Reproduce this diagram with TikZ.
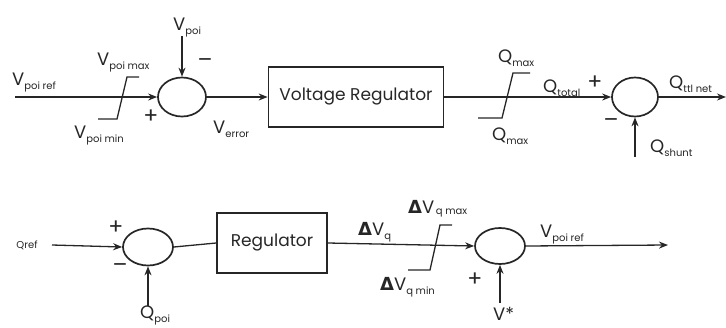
\documentclass[tikz,border=0pt]{standalone}
\usepackage{fontspec}
\setmainfont{Poppins}
\newfontfamily\deltafont{DejaVu Sans}
\usepackage{tikz}
\usetikzlibrary{shapes.geometric,arrows.meta,positioning}

\newcommand{\sig}[2]{#1\raisebox{-4pt}{\fontsize{10}{10}\selectfont #2}}
\newcommand{\dlt}{{\deltafont\bfseries Δ}}

\begin{document}
\begin{tikzpicture}[
    x=1pt, y=-1pt,
    color=black!85,
    font=\fontsize{18}{18}\selectfont,
    sumnode/.style={draw, ellipse, line width=1.7pt, minimum width=48pt, minimum height=39pt, inner sep=0pt},
    block/.style={draw, line width=1.7pt, minimum height=60pt, inner sep=0pt, font=\fontsize{17}{17}\selectfont},
    lbl/.style={anchor=base west, inner sep=0pt},
    sgn/.style={inner sep=0pt, font=\fontsize{22}{22}\selectfont},
    wire/.style={-{Stealth[length=9pt, width=7pt]}, line width=1.3pt},
    limit/.style={line width=1.3pt}
]
\useasboundingbox (0,0) rectangle (726,327);

% voltage loop
\coordinate (vin) at (15,97);
\coordinate (vtop) at (182,36);
\node[sumnode] (sum1) at (182,97) {};
\node[block, minimum width=175pt] (vreg) at (356,97) {Voltage Regulator};
\node[sumnode, minimum width=46pt] (sum2) at (635,97) {};
\coordinate (qout) at (726,97);
\coordinate (qsh) at (635,157);

\draw[limit] (98,119) -- (117,119) -- (127,77) -- (139,77);
\draw[limit] (478,118) -- (502,118) -- (513,73) -- (530,73);

\node[lbl] (lvref) at (12,85) {\sig{V}{poi ref}};
\node[lbl] (lvpoi) at (173,30) {\sig{V}{poi}};
\node[lbl] (lvmax) at (97,65) {\sig{V}{poi max}};
\node[lbl] (lvmin) at (74,138) {\sig{V}{poi min}};
\node[lbl] (lverr) at (213,133) {\sig{V}{error}};
\node[sgn] (m1) at (205,63) {\textendash};
\node[sgn] (p1) at (151,117) {+};
\node[lbl] (lqmax) at (498,62) {\sig{Q}{max}};
\node[lbl] (lqmin) at (492,140) {\sig{Q}{max}};
\node[lbl] (lqtot) at (543,92) {\sig{Q}{total}};
\node[sgn] (p2) at (595,83) {+};
\node[lbl] (lqnet) at (669,88) {\sig{Q}{ttl net}};
\node[sgn] (m2) at (611,123) {\textendash};
\node[lbl] (lqsh) at (650,152) {\sig{Q}{shunt}};

% reactive power loop
\coordinate (qin) at (52,245);
\coordinate (qpoiin) at (148,306);
\node[sumnode, minimum width=50pt, minimum height=37pt] (sum3) at (148,247) {};
\node[block, minimum width=110pt] (reg) at (272,243) {Regulator};
\node[sumnode, minimum width=50pt, minimum height=36pt] (sum4) at (500,246) {};
\coordinate (vsin) at (500,303);
\coordinate (vout) at (668,245);

\draw[limit] (408,270) -- (430,270) -- (440,225) -- (452,225);

\node[inner sep=0pt, font=\fontsize{10}{10}\selectfont] (lqref) at (27,245) {Qref};
\node[sgn] (p3) at (116,228) {+};
\node[sgn] (m3) at (120,268) {\textendash};
\node[lbl] (lqpoi) at (140,318) {\sig{Q}{poi}};
\node[lbl] (ldvq) at (358,235) {\dlt\sig{V}{q}};
\node[lbl] (ldvmax) at (408,213) {\dlt V\raisebox{-1pt}{\fontsize{10}{10}\selectfont\,q max}};
\node[lbl] (ldvmin) at (380,290) {\dlt\sig{V}{q min}};
\node[sgn] (p4) at (475,280) {+};
\node[lbl] (lvstar) at (493,320) {V*};
\node[lbl] (lvref2) at (540,237) {\sig{V}{poi ref}};

\foreach \a/\b in {vin/sum1.west, vtop/sum1.north, sum1.east/vreg.west, vreg.east/sum2.west,
    sum2.east/qout, qsh/sum2.south, qin/sum3.west, qpoiin/sum3.south,
    reg.east/sum4.west, vsin/sum4.south, sum4.east/vout}
  \draw[wire] (\a) -- (\b);
\draw[line width=1.3pt] (sum3.east) -- (reg.west);
\end{tikzpicture}
\end{document}
